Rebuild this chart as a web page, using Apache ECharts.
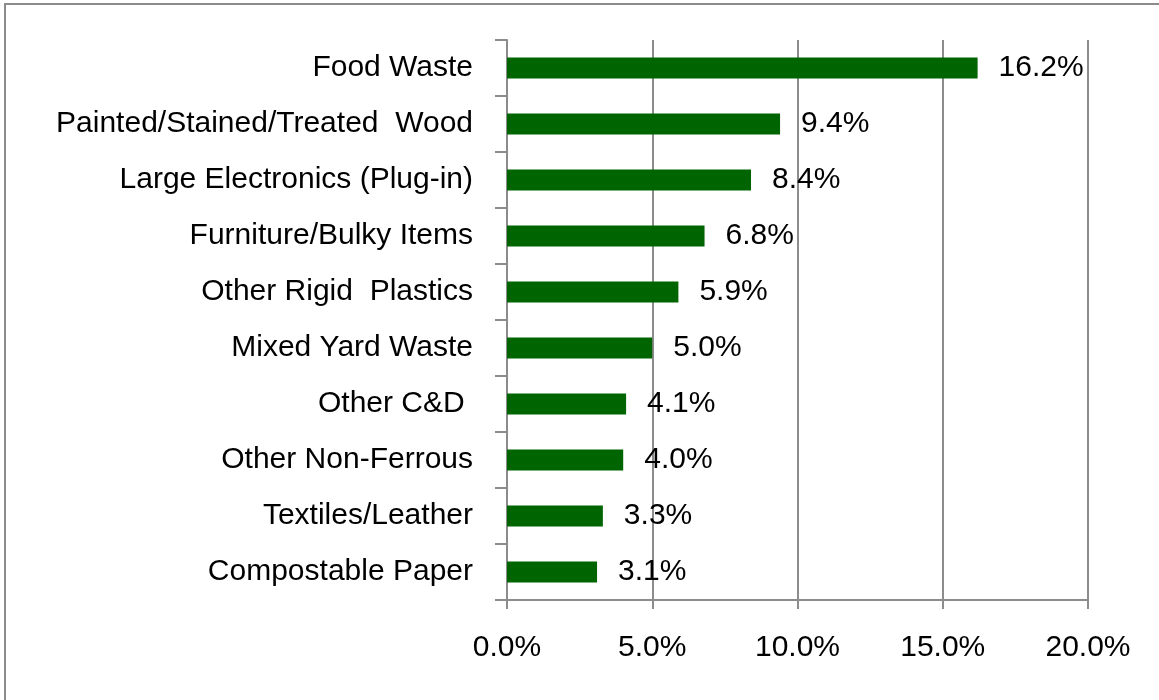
<!DOCTYPE html>
<html>
<head>
<meta charset="utf-8">
<script src="https://cdn.jsdelivr.net/npm/echarts@6/dist/echarts.min.js"></script>
<style>
  html, body { margin: 0; padding: 0; background: #fff; }
  #chart { width: 1159px; height: 700px; }
</style>
</head>
<body>
<div id="chart"></div>
<script>
// Material categories, top to bottom
const categories = [
  'Food Waste',
  'Painted/Stained/Treated  Wood',
  'Large Electronics (Plug-in)',
  'Furniture/Bulky Items',
  'Other Rigid  Plastics',
  'Mixed Yard Waste',
  'Other C&D ',
  'Other Non-Ferrous',
  'Textiles/Leather',
  'Compostable Paper'
];
// Share of total, percent
const shares = [16.2, 9.4, 8.4, 6.8, 5.9, 5.0, 4.1, 4.0, 3.3, 3.1];
const xTicks = [0, 5, 10, 15, 20];

const FONT = '"Liberation Sans", Arial, sans-serif';
const FONT_SIZE = 30;
const GRID_COLOR = '#8c8c8c';

const chart = echarts.init(document.getElementById('chart'));
chart.setOption({
  animation: false,
  backgroundColor: '#ffffff',
  graphic: [{
    type: 'rect',
    shape: { x: 5, y: 4, width: 1300, height: 900 },
    style: { fill: 'none', stroke: GRID_COLOR, lineWidth: 2 },
    silent: true
  }],
  grid: { left: 507, right: 71, top: 40, bottom: 100, containLabel: false },
  xAxis: {
    type: 'value',
    min: xTicks[0],
    max: xTicks[xTicks.length - 1],
    interval: 5,
    axisLine: { show: true, lineStyle: { color: GRID_COLOR, width: 2 } },
    axisTick: { show: true, length: 9, lineStyle: { color: GRID_COLOR, width: 2 } },
    splitLine: { show: true, lineStyle: { color: GRID_COLOR, width: 2 } },
    axisLabel: {
      margin: 33,
      color: '#000',
      fontFamily: FONT,
      fontSize: FONT_SIZE,
      formatter: v => v.toFixed(1) + '%'
    }
  },
  yAxis: {
    type: 'category',
    inverse: true,
    data: categories,
    axisLine: { show: true, lineStyle: { color: GRID_COLOR, width: 2 } },
    axisTick: { show: true, length: 12, lineStyle: { color: GRID_COLOR, width: 2 } },
    axisLabel: {
      margin: 34,
      color: '#000',
      fontFamily: FONT,
      fontSize: FONT_SIZE
    }
  },
  series: [{
    type: 'bar',
    data: shares,
    barWidth: 21,
    itemStyle: { color: '#006400' },
    label: {
      show: true,
      position: 'right',
      distance: 21,
      color: '#000',
      fontFamily: FONT,
      fontSize: FONT_SIZE,
      formatter: p => p.value.toFixed(1) + '%'
    }
  }]
});
</script>
</body>
</html>
